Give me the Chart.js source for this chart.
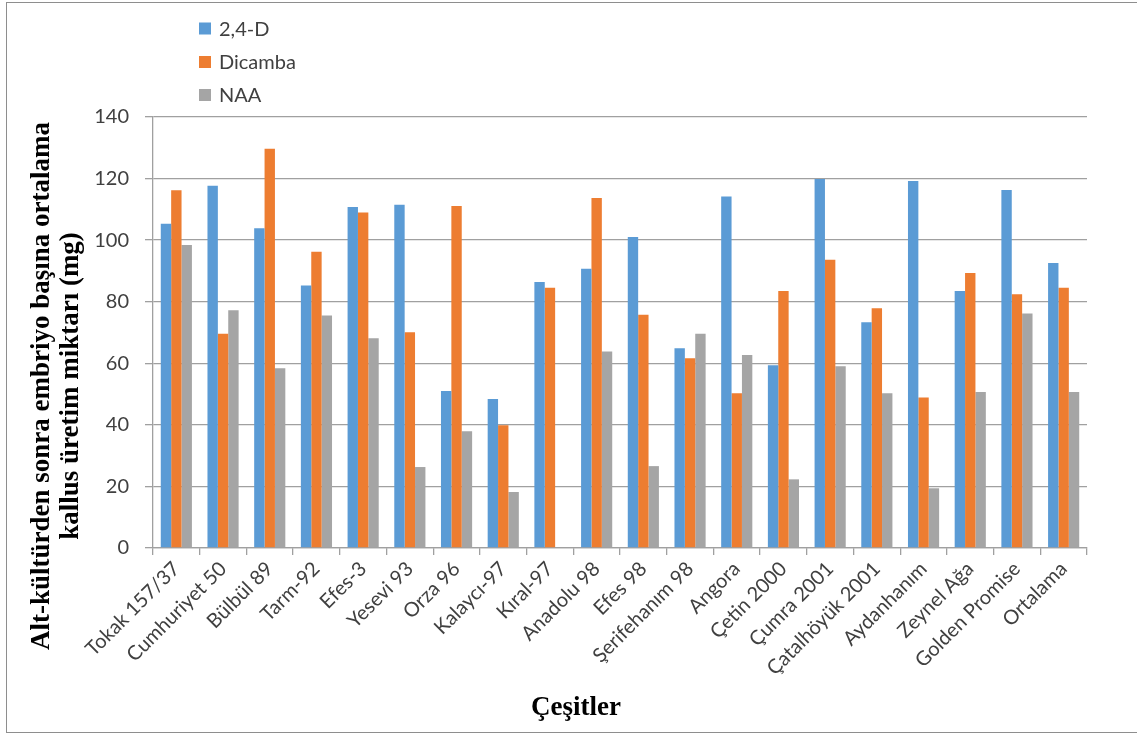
<!DOCTYPE html>
<html lang="tr">
<head>
<meta charset="utf-8">
<title>Kallus üretim miktarı</title>
<script src="https://cdn.jsdelivr.net/npm/chart.js@4.4.1/dist/chart.umd.min.js"></script>
<style>
  html, body { margin: 0; padding: 0; background: #ffffff; }
  #wrap { position: relative; width: 1137px; height: 735px; overflow: hidden; background: #ffffff; }
  #frame { position: absolute; left: 6px; top: 2px; width: 1150px; height: 731px; border: 1px solid #8e8e8e; box-sizing: border-box; pointer-events: none; }
  canvas { position: absolute; left: 0; top: 0; }
</style>
</head>
<body>
<div id="wrap">
  <canvas id="c" width="1137" height="735"></canvas>
  <div id="frame"></div>
</div>
<script>
// Cultivars on the x axis
const categories = [
  "Tokak 157/37", "Cumhuriyet 50", "Bülbül 89", "Tarm-92", "Efes-3", "Yesevi 93",
  "Orza 96", "Kalaycı-97", "Kıral-97", "Anadolu 98", "Efes 98", "Şerifehanım 98",
  "Angora", "Çetin 2000", "Çumra 2001", "Çatalhöyük 2001", "Aydanhanım",
  "Zeynel Ağa", "Golden Promise", "Ortalama"
];

// Mean callus production per embryo (mg) for each auxin
const values24D = [105.3, 117.7, 103.9, 85.3, 110.8, 111.5, 51.0, 48.4, 86.4, 90.7,
                   101.0, 64.9, 114.2, 59.4, 119.9, 73.3, 119.2, 83.5, 116.3, 92.6];
const valuesDicamba = [116.2, 69.6, 129.7, 96.2, 109.0, 70.1, 111.1, 39.9, 84.5, 113.7,
                       75.8, 61.6, 50.3, 83.5, 93.6, 77.9, 48.9, 89.3, 82.4, 84.5];
const valuesNAA = [98.4, 77.2, 58.4, 75.5, 68.1, 26.3, 37.9, 18.2, 0, 63.8,
                   26.6, 69.6, 62.7, 22.3, 59.0, 50.3, 19.4, 50.7, 76.2, 50.7];

const seriesNames = ["2,4-D", "Dicamba", "NAA"];
const yTicks = [0, 20, 40, 60, 80, 100, 120, 140];

const yTitleLines = ["Alt-kültürden sonra embriyo başına ortalama", "kallus üretim miktarı (mg)"];
const xTitle = "Çeşitler";

const colors = ["#5B9BD5", "#ED7D31", "#A5A5A5"];
const labelFont = "Lato, 'Open Sans', sans-serif";
const titleFont = "'Liberation Serif', 'DejaVu Serif', serif";

// Vertical legend above the plot and the two bold serif axis titles
const decorations = {
  id: "decorations",
  afterDraw(chart) {
    const ctx = chart.ctx;
    ctx.save();
    // legend
    const rowY = [28.5, 62, 95];
    chart.data.datasets.forEach((ds, i) => {
      ctx.fillStyle = ds.backgroundColor;
      ctx.fillRect(199, rowY[i] - 6, 12, 12);
      ctx.fillStyle = "#404040";
      ctx.font = "20px " + labelFont;
      ctx.textAlign = "left";
      ctx.textBaseline = "middle";
      ctx.fillText(ds.label, 219, rowY[i] + 1);
    });
    // y axis title (two lines, rotated)
    ctx.fillStyle = "#000000";
    ctx.font = "bold 27px " + titleFont;
    ctx.textAlign = "center";
    ctx.textBaseline = "middle";
    const lineX = [42, 71];
    yTitleLines.forEach((line, i) => {
      ctx.save();
      ctx.translate(lineX[i], 386);
      ctx.rotate(-Math.PI / 2);
      ctx.fillText(line, 0, 0);
      ctx.restore();
    });
    // x axis title
    ctx.textBaseline = "alphabetic";
    ctx.fillText(xTitle, 576, 715);
    ctx.restore();
  }
};

const valueSets = [values24D, valuesDicamba, valuesNAA];

new Chart(document.getElementById("c"), {
  type: "bar",
  data: {
    labels: categories,
    datasets: seriesNames.map((name, i) => ({
      label: name,
      data: valueSets[i],
      backgroundColor: colors[i],
      borderWidth: 0,
      categoryPercentage: 0.667,
      barPercentage: 1.0
    }))
  },
  options: {
    responsive: false,
    animation: false,
    devicePixelRatio: 1,
    layout: { padding: { left: 0, top: 117, right: 50, bottom: 0 } },
    plugins: {
      legend: { display: false },
      tooltip: { enabled: false }
    },
    scales: {
      x: {
        offset: true,
        border: { display: true, color: "#a0a0a0", width: 1.3 },
        grid: {
          display: true,
          offset: true,
          drawOnChartArea: false,
          drawTicks: true,
          tickLength: 7,
          color: "#a0a0a0",
          lineWidth: 1.3
        },
        ticks: {
          autoSkip: false,
          minRotation: 45,
          maxRotation: 45,
          padding: 2,
          color: "#404040",
          font: { family: labelFont, size: 20 }
        },
        afterFit(scale) { scale.height = 735 - 548; }
      },
      y: {
        min: 0,
        max: 140,
        border: { display: true, color: "#a0a0a0", width: 1.3 },
        grid: {
          color: "#a0a0a0",
          lineWidth: 1.3,
          drawTicks: true,
          tickLength: 8
        },
        afterBuildTicks(scale) { scale.ticks = yTicks.map(v => ({ value: v })); },
        ticks: {
          padding: 16,
          color: "#404040",
          font: { family: labelFont, size: 20 }
        },
        afterFit(scale) { scale.width = 153; }
      }
    }
  },
  plugins: [decorations]
});
</script>
</body>
</html>
